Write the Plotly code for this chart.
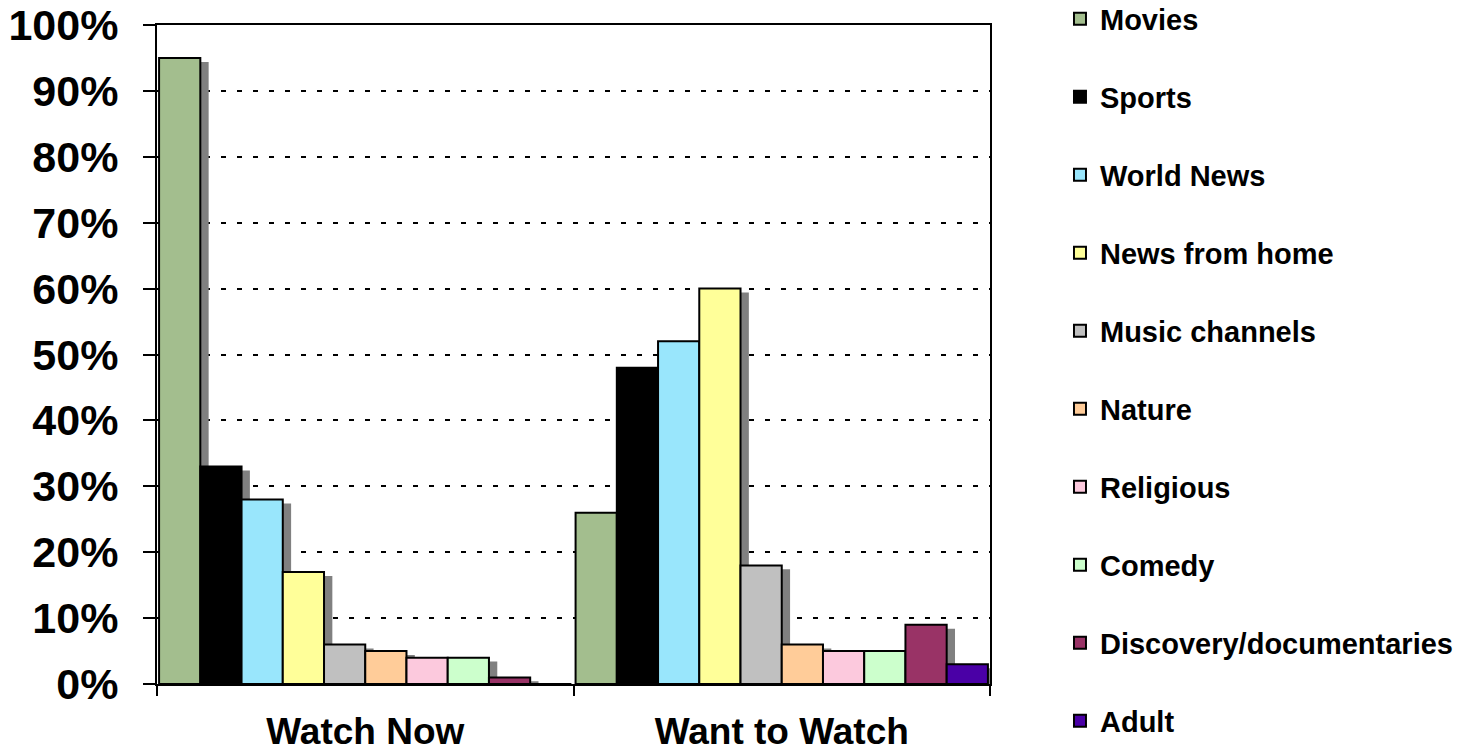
import plotly.graph_objects as go

categories = ["Watch Now", "Want to Watch"]
series_names = ["Movies", "Sports", "World News", "News from home", "Music channels",
                "Nature", "Religious", "Comedy", "Discovery/documentaries", "Adult"]
watch_now = [95, 33, 28, 17, 6, 5, 4, 4, 1, 0]
want_to_watch = [26, 48, 52, 60, 18, 6, 5, 5, 9, 3]
colors = ["#A3BE8E", "#000000", "#99E6FC", "#FFFF99", "#C0C0C0",
          "#FFCC99", "#FCC9DD", "#CCFFCC", "#993366", "#4A00A6"]
y_ticks = list(range(0, 101, 10))

n = len(series_names)
bar_w = 0.099
start = -0.495
shadow_dx = 0.02
shadow_dy = 0.6

fig = go.Figure()

# drop shadows first, so the bars sit on top of them
for i in range(n):
    vals = [watch_now[i], want_to_watch[i]]
    fig.add_trace(go.Bar(
        x=categories,
        y=[v if v > shadow_dy else 0 for v in vals],
        base=[-shadow_dy, -shadow_dy],
        width=bar_w, offset=start + i * bar_w + shadow_dx,
        marker=dict(color="#808080", line=dict(width=0)),
        showlegend=False, hoverinfo="skip",
    ))

for i in range(n):
    fig.add_trace(go.Bar(
        x=categories, y=[watch_now[i], want_to_watch[i]],
        name=series_names[i], legendgroup=series_names[i],
        width=bar_w, offset=start + i * bar_w,
        marker=dict(color=colors[i], line=dict(color="#000000", width=2)),
    ))

axis_font = dict(family="Liberation Sans, Arial, sans-serif", color="#000000", weight=700)

fig.update_layout(
    width=1474, height=752,
    barmode="overlay",
    paper_bgcolor="#FFFFFF", plot_bgcolor="#FFFFFF",
    margin=dict(l=157, r=484, t=25, b=68, autoexpand=False),
    font=dict(family="Liberation Sans, Arial, sans-serif", color="#000000"),
    xaxis=dict(
        type="category", range=[-0.5, 1.5], automargin=False,
        showline=True, linecolor="#000000", linewidth=2, mirror=True,
        ticks="outside", tickson="boundaries", ticklen=10, tickwidth=2, tickcolor="#000000",
        tickfont=dict(size=37, **axis_font), ticklabelstandoff=14, showgrid=False,
        ticklabeloverflow="allow",
    ),
    yaxis=dict(
        range=[0, 100], tickvals=y_ticks, ticktext=[f"{v}%" for v in y_ticks],
        automargin=False,
        showline=True, linecolor="#000000", linewidth=2, mirror=True,
        ticks="outside", ticklen=12, tickwidth=2, tickcolor="#000000",
        tickfont=dict(size=43, **axis_font), ticklabelstandoff=16,
        ticklabeloverflow="allow",
        showgrid=True, gridcolor="#000000", gridwidth=2, griddash="5px,11px",
        zeroline=False,
    ),
    legend=dict(
        x=1.084, y=1.048, xanchor="left", yanchor="top",
        font=dict(size=29, family="Liberation Sans, Arial, sans-serif", color="#000000", weight=700),
        traceorder="grouped", tracegroupgap=37.3, maxheight=1200,
        bgcolor="rgba(0,0,0,0)", itemsizing="constant",
    ),
)

fig.write_html("out.html", config={"displayModeBar": False},
               post_script="document.body.style.margin='0';")
